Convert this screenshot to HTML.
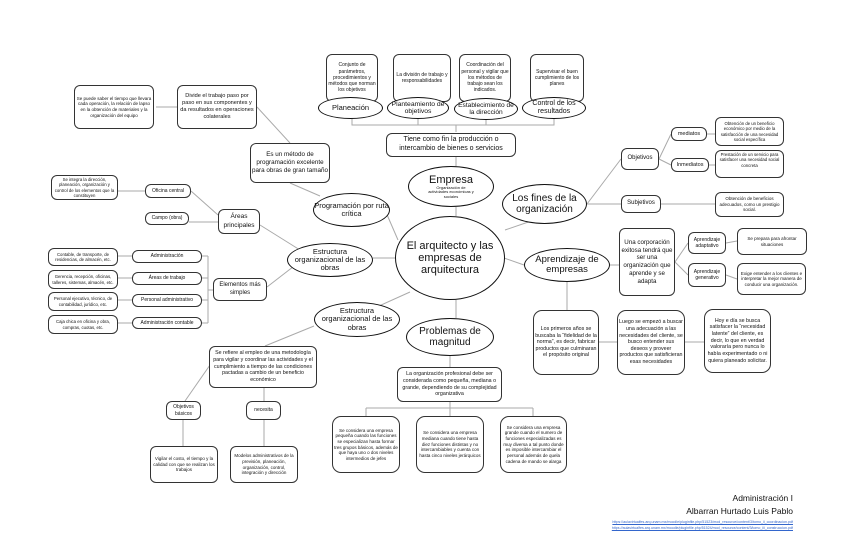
<!DOCTYPE html>
<html><head><meta charset="utf-8"><style>
body{margin:0;width:848px;height:540px;background:#fff;position:relative;overflow:hidden;font-family:"Liberation Sans",sans-serif;color:#111}
.b{position:absolute;border:1.2px solid #333;border-radius:6px;background:#fff;display:flex;align-items:center;justify-content:center;text-align:center;box-sizing:border-box;font-size:5px;line-height:1.25;padding:1px}
.e{position:absolute;border:1.5px solid #111;border-radius:50%;background:#fff;display:flex;align-items:center;justify-content:center;text-align:center;box-sizing:border-box;line-height:1.1;flex-direction:column}
svg{position:absolute;left:0;top:0}
.t{position:absolute;white-space:nowrap}
</style></head><body>
<svg width="848" height="540" stroke="#aaa" stroke-width="1" fill="none">
<path d="M352,102V125H554V102M418,102V125M486,102V125M456,125V132M456,157V166M456,207V216"/>
<path d="M505,230L540,218M587,204L621,159M659,159L671,134M659,159L671,165M707,134L715,134M709,165L715,165M587,204L621,204M661,204L715,204"/>
<path d="M504,258L524,265M610,265L619,265M675,262L688,243M675,262L688,275M726,243L737,241M726,275L737,279"/>
<path d="M567,282V310M599,342H617M685,342H704"/>
<path d="M456,300V318M450,356V367M450,402V408M366,408H533M366,408V416M450,408V416M533,408V416"/>
<path d="M410,292L370,310M314,326L265,346M210,365L185,401M264,388V401M183,419V446M264,419V446"/>
<path d="M398,258H373M300,250L260,225M218,215L191,191M218,222H189M145,191H118M320,246L267,287M213,290H208M208,256V323M202,256H208M202,278H208M202,300H208M202,323H208M132,256H118M132,278H118M132,300H118M132,323H118"/>
<path d="M156,107H177M257,107L290,143M290,183L320,196"/>
<path d="M385,210L398,240"/>
</svg>

<div class="b" style="left:326px;top:54px;width:52px;height:48px">Conjunto de parámetros, procedimientos y métodos que norman los objetivos</div>
<div class="b" style="left:393px;top:54px;width:58px;height:48px">La división de trabajo y responsabilidades</div>
<div class="b" style="left:459px;top:54px;width:52px;height:48px">Coordinación del personal y vigilar que los métodos de trabajo sean los indicados.</div>
<div class="b" style="left:530px;top:54px;width:54px;height:48px">Supervisar el buen cumplimiento de los planes</div>
<div class="e" style="left:318px;top:97px;width:65px;height:22px;font-size:7.5px">Planeación</div>
<div class="e" style="left:387px;top:97px;width:62px;height:22px;font-size:6.8px">Planteamiento de objetivos</div>
<div class="e" style="left:454px;top:98px;width:64px;height:22px;font-size:6.6px">Establecimiento de la dirección</div>
<div class="e" style="left:522px;top:97px;width:64px;height:22px;font-size:7px">Control de los resultados</div>
<div class="b" style="left:386px;top:133px;width:130px;height:24px;font-size:7px">Tiene como fin la producción o intercambio de bienes o servicios</div>
<div class="e" style="left:408px;top:166px;width:86px;height:41px;font-size:11px">Empresa<span style="font-size:4px;width:50px">Organización de actividades económicas y sociales</span></div>
<div class="e" style="left:395px;top:216px;width:110px;height:84px;font-size:11px">El arquitecto y las empresas de arquitectura</div>
<div class="e" style="left:502px;top:184px;width:85px;height:40px;font-size:10px">Los fines de la organización</div>
<div class="b" style="left:621px;top:148px;width:38px;height:22px;font-size:6px">Objetivos</div>
<div class="b" style="left:671px;top:127px;width:36px;height:14px;font-size:5.5px">mediatos</div>
<div class="b" style="left:671px;top:158px;width:38px;height:14px;font-size:5.5px">Inmediatos</div>
<div class="b" style="left:715px;top:117px;width:69px;height:29px;font-size:4.3px">Obtención de un beneficio económico por medio de la satisfacción de una necesidad social específica</div>
<div class="b" style="left:715px;top:150px;width:69px;height:28px;font-size:4.3px;align-items:flex-start">Prestación de un servicio para satisfacer una necesidad social concreta</div>
<div class="b" style="left:621px;top:195px;width:40px;height:18px;font-size:6px">Subjetivos</div>
<div class="b" style="left:715px;top:192px;width:69px;height:25px;font-size:4.5px">Obtención de beneficios adecuados, como un prestigio social.</div>
<div class="e" style="left:524px;top:248px;width:86px;height:34px;font-size:9.5px">Aprendizaje de empresas</div>
<div class="b" style="left:619px;top:228px;width:56px;height:68px;font-size:6.2px">Una corporación exitosa tendrá que ser una organización que aprende y se adapta</div>
<div class="b" style="left:688px;top:232px;width:38px;height:22px;font-size:5px">Aprendizaje adaptativo</div>
<div class="b" style="left:688px;top:263px;width:38px;height:24px;font-size:5px">Aprendizaje generativo</div>
<div class="b" style="left:737px;top:228px;width:70px;height:27px;font-size:4.5px">Se prepara para afrontar situaciones</div>
<div class="b" style="left:737px;top:263px;width:69px;height:32px;font-size:4.5px">Exige entender a los clientes e interpretar la mejor manera de conducir una organización.</div>
<div class="b" style="left:533px;top:310px;width:66px;height:65px;font-size:5.3px;border-radius:9px">Los primeros años se buscaba la “fidelidad de la norma”, es decir, fabricar productos que culminaran el propósito original</div>
<div class="b" style="left:617px;top:310px;width:68px;height:65px;font-size:5.3px;border-radius:9px">Luego se empezó a buscar una adecuación a las necesidades del cliente, se busco entender sus deseos y proveer productos que satisficieran esas necesidades</div>
<div class="b" style="left:704px;top:309px;width:67px;height:64px;font-size:5.3px;border-radius:9px">Hoy e día se busca satisfacer la “necesidad latente” del cliente, es decir, lo que en verdad valoraría pero nunca lo había experimentado o ni quiera planeado solicitar.</div>
<div class="e" style="left:406px;top:318px;width:88px;height:38px;font-size:10px">Problemas de magnitud</div>
<div class="b" style="left:397px;top:367px;width:105px;height:35px;font-size:5.3px">La organización profesional debe ser considerada como pequeña, mediana o grande, dependiendo de su complejidad organizativa</div>
<div class="b" style="left:332px;top:416px;width:68px;height:57px;font-size:4.5px;border-radius:9px">Se considera una empresa pequeña cuando las funciones se especializan hasta formar tres grupos básicos, además de que haya uno o dos niveles intermedios de jefes</div>
<div class="b" style="left:416px;top:416px;width:68px;height:57px;font-size:4.5px;border-radius:9px">Se considera una empresa mediana cuando tiene hasta diez funciones distintas y no intercambiables y cuenta con hasta cinco niveles jerárquicos</div>
<div class="b" style="left:500px;top:416px;width:67px;height:57px;font-size:4.5px;border-radius:9px">Se considera una empresa grande cuando el numero de funciones especializadas es muy diversa a tal punto donde es imposible intercambiar el personal además de quela cadena de mando se alarga</div>
<div class="b" style="left:209px;top:346px;width:108px;height:42px;font-size:5.3px">Se refiere al empleo de una metodología para vigilar y coordinar las actividades y el cumplimiento a tiempo de las condiciones pactadas a cambio de un beneficio económico</div>
<div class="b" style="left:166px;top:401px;width:35px;height:19px;font-size:5px">Objetivos básicos</div>
<div class="b" style="left:246px;top:401px;width:35px;height:19px;font-size:5px">necesita</div>
<div class="b" style="left:150px;top:446px;width:68px;height:37px;font-size:4.5px">Vigilar el costo, el tiempo y la calidad con que se realizan los trabajos</div>
<div class="b" style="left:230px;top:446px;width:68px;height:37px;font-size:4.5px">Modelos administrativos de la previsión, planeación, organización, control, integración y dirección</div>
<div class="e" style="left:314px;top:302px;width:86px;height:35px;font-size:7.5px">Estructura organizacional de las obras</div>
<div class="e" style="left:287px;top:243px;width:86px;height:34px;font-size:7.5px">Estructura organizacional de las obras</div>
<div class="b" style="left:213px;top:278px;width:54px;height:23px;font-size:6px">Elementos más simples</div>
<div class="b" style="left:132px;top:250px;width:70px;height:13px;font-size:5px">Administración</div>
<div class="b" style="left:132px;top:272px;width:70px;height:13px;font-size:5px">Áreas de trabajo</div>
<div class="b" style="left:132px;top:294px;width:70px;height:13px;font-size:5px">Personal administrativo</div>
<div class="b" style="left:132px;top:317px;width:70px;height:12px;font-size:5px">Administración contable</div>
<div class="b" style="left:48px;top:248px;width:70px;height:18px;font-size:4.3px">Contable, de transporte, de residencias, de almacén, etc.</div>
<div class="b" style="left:48px;top:270px;width:70px;height:19px;font-size:4.3px">Gerencia, recepción, oficinas, talleres, sistemas, almacén, etc.</div>
<div class="b" style="left:48px;top:292px;width:70px;height:19px;font-size:4.3px">Personal ejecutivo, técnico, de contabilidad, jurídico, etc.</div>
<div class="b" style="left:48px;top:315px;width:70px;height:19px;font-size:4.3px">Caja chica en oficina y obra, compras, cuotas, etc.</div>
<div class="b" style="left:218px;top:209px;width:42px;height:25px;font-size:6.5px">Áreas principales</div>
<div class="b" style="left:145px;top:212px;width:44px;height:13px;font-size:5px">Campo (obra)</div>
<div class="b" style="left:145px;top:184px;width:46px;height:14px;font-size:5px">Oficina central</div>
<div class="b" style="left:51px;top:175px;width:67px;height:25px;font-size:4.3px">Se integra la dirección, planeación, organización y control de los elementos que la constituyen</div>
<div class="e" style="left:313px;top:193px;width:77px;height:34px;font-size:7.5px">Programación por ruta crítica</div>
<div class="b" style="left:250px;top:143px;width:80px;height:40px;font-size:6.3px">Es un método de programación excelente para obras de gran tamaño</div>
<div class="b" style="left:177px;top:85px;width:80px;height:44px;font-size:5.6px">Divide el trabajo paso por paso en sus componentes y da resultados en operaciones colaterales</div>
<div class="b" style="left:74px;top:85px;width:80px;height:44px;font-size:4.5px">Se puede saber el tiempo que llevara cada operación, la relación de lapso en la obtención de materiales y la organización del equipo</div>
<div class="t" style="right:55px;top:493px;font-size:8.5px">Administración I</div>
<div class="t" style="right:55px;top:506px;font-size:8.5px">Albarran Hurtado Luis Pablo</div>
<div class="t" style="right:55px;top:520px;font-size:3.6px;color:#3366cc;text-decoration:underline">https://aulavirtualfes.arq.unam.mx/moodle/pluginfile.php/51523/mod_resource/content/3/tomo_ii_coordinacion.pdf</div>
<div class="t" style="right:55px;top:526px;font-size:3.6px;color:#3366cc;text-decoration:underline">https://aulavirtualfes.arq.unam.mx/moodle/pluginfile.php/51524/mod_resource/content/3/tomo_iii_construccion.pdf</div>
</body></html>
